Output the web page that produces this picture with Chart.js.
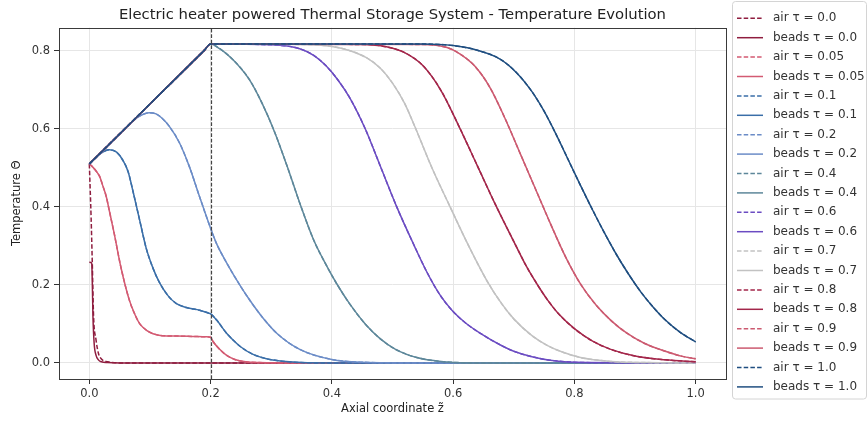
<!DOCTYPE html>
<html>
<head>
<meta charset="utf-8">
<script src="https://cdn.jsdelivr.net/npm/chart.js@4.4.1/dist/chart.umd.min.js"></script>
<style>
  html, body { margin: 0; padding: 0; background: #fff; }
  #wrap { width: 868px; height: 421px; position: relative; }
</style>
</head>
<body>
<div id="wrap"><canvas id="chart"></canvas></div>
<script>
/* --- Data --- */
const TAUS = ['0.0', '0.05', '0.1', '0.2', '0.4', '0.6', '0.7', '0.8', '0.9', '1.0'];
const COLORS = ['#8f1d3f', '#d35a72', '#3a6ea8', '#6b8cc7', '#5d879a',
                '#6b4cc2', '#c2c2c2', '#a3264a', '#cc5a70', '#1f4e80'];
const xTicks = [0.0, 0.2, 0.4, 0.6, 0.8, 1.0];
const yTicks = [0.0, 0.2, 0.4, 0.6, 0.8];
const HEATER_END = 0.2;

// tau = 0.0 (air and beads differ here)
const z00a = [0, 0.003, 0.005, 0.007, 0.011, 0.015, 0.02, 0.027, 0.035, 0.05, 1.0];
const t00a = [0.51, 0.37, 0.25, 0.12, 0.06, 0.025, 0.01, 0.004, 0.002, 0, 0];
const z00b = [0, 0.004, 0.005, 0.006, 0.008, 0.011, 0.015, 0.02, 0.03, 0.05, 1.0];
const t00b = [0.258, 0.256, 0.2, 0.12, 0.05, 0.02, 0.008, 0.003, 0.001, 0, 0];

// tau = 0.05
const z005 = [0, 0.005, 0.012, 0.017, 0.022, 0.028, 0.033, 0.041, 0.052, 0.066, 0.075, 0.083, 0.095, 0.105, 0.12, 0.143, 0.17, 0.193, 0.2, 0.204, 0.215, 0.226, 0.24, 0.258, 0.28, 0.35, 1.0];
const t005 = [0.51, 0.503, 0.49, 0.478, 0.455, 0.426, 0.39, 0.332, 0.246, 0.161, 0.125, 0.101, 0.083, 0.075, 0.07, 0.069, 0.068, 0.067, 0.066, 0.055, 0.035, 0.02, 0.009, 0.003, 0.001, 0, 0];

// tau = 0.1
const z01 = [0, 0.01, 0.02, 0.033, 0.045, 0.055, 0.064, 0.072, 0.083, 0.094, 0.105, 0.116, 0.13, 0.143, 0.16, 0.182, 0.196, 0.2, 0.21, 0.226, 0.237, 0.25, 0.27, 0.292, 0.33, 0.4, 1.0];
const t01 = [0.51, 0.525, 0.538, 0.546, 0.54, 0.52, 0.49, 0.44, 0.366, 0.293, 0.243, 0.205, 0.172, 0.153, 0.142, 0.135, 0.128, 0.126, 0.11, 0.077, 0.059, 0.041, 0.022, 0.011, 0.003, 0, 0];

// tau = 0.2
const z02 = [0, 0.04, 0.08, 0.09, 0.099, 0.11, 0.12, 0.132, 0.149, 0.165, 0.182, 0.2, 0.21, 0.226, 0.248, 0.265, 0.285, 0.31, 0.347, 0.4, 0.45, 0.55, 1.0];
const t02 = [0.51, 0.571, 0.63, 0.638, 0.641, 0.638, 0.627, 0.606, 0.563, 0.503, 0.425, 0.345, 0.305, 0.258, 0.2, 0.16, 0.118, 0.075, 0.035, 0.009, 0.002, 0, 0];

// tau = 0.4
const z04 = [0, 0.1, 0.19, 0.2, 0.215, 0.237, 0.264, 0.285, 0.306, 0.326, 0.347, 0.37, 0.391, 0.408, 0.43, 0.455, 0.479, 0.505, 0.54, 0.58, 0.65, 1.0];
const t04 = [0.51, 0.6635, 0.8015, 0.817, 0.805, 0.777, 0.726, 0.665, 0.59, 0.505, 0.41, 0.315, 0.25, 0.203, 0.15, 0.1, 0.063, 0.035, 0.014, 0.004, 0, 0];

// tau = 0.6
const z06 = [0, 0.1, 0.19, 0.2, 0.3, 0.347, 0.37, 0.39, 0.41, 0.43, 0.455, 0.481, 0.507, 0.536, 0.556, 0.578, 0.598, 0.62, 0.645, 0.678, 0.70, 0.73, 0.76, 0.82, 1.0];
const t06 = [0.51, 0.6635, 0.8015, 0.817, 0.815, 0.805, 0.788, 0.762, 0.725, 0.678, 0.6, 0.5, 0.4, 0.3, 0.235, 0.175, 0.135, 0.103, 0.076, 0.046, 0.03, 0.016, 0.007, 0.001, 0];

// tau = 0.7
const z07 = [0, 0.1, 0.19, 0.2, 0.35, 0.40, 0.43, 0.457, 0.48, 0.50, 0.52, 0.537, 0.565, 0.595, 0.625, 0.656, 0.68, 0.70, 0.73, 0.755, 0.78, 0.81, 0.86, 0.92, 1.0];
const t07 = [0.51, 0.6635, 0.8015, 0.817, 0.816, 0.811, 0.80, 0.782, 0.755, 0.717, 0.665, 0.605, 0.5, 0.4, 0.302, 0.21, 0.152, 0.113, 0.07, 0.045, 0.028, 0.014, 0.004, 0.001, 0];

// tau = 0.8
const z08 = [0, 0.1, 0.19, 0.2, 0.45, 0.49, 0.52, 0.55, 0.58, 0.61, 0.64, 0.67, 0.703, 0.72, 0.738, 0.755, 0.775, 0.80, 0.83, 0.86, 0.90, 0.95, 1.0];
const t08 = [0.51, 0.6635, 0.8015, 0.817, 0.816, 0.81, 0.795, 0.762, 0.698, 0.605, 0.505, 0.405, 0.302, 0.25, 0.203, 0.163, 0.124, 0.088, 0.056, 0.035, 0.018, 0.008, 0.003];

// tau = 0.9
const z09 = [0, 0.1, 0.19, 0.2, 0.55, 0.59, 0.611, 0.636, 0.661, 0.686, 0.711, 0.736, 0.761, 0.786, 0.811, 0.836, 0.861, 0.886, 0.916, 0.95, 0.978, 1.0];
const t09 = [0.51, 0.6635, 0.8015, 0.817, 0.816, 0.808, 0.792, 0.76, 0.705, 0.625, 0.535, 0.445, 0.355, 0.27, 0.2, 0.148, 0.108, 0.077, 0.05, 0.03, 0.017, 0.011];

// tau = 1.0
const z10 = [0, 0.1, 0.19, 0.2, 0.55, 0.6, 0.64, 0.678, 0.705, 0.73, 0.75, 0.77, 0.79, 0.81, 0.83, 0.85, 0.87, 0.89, 0.91, 0.93, 0.95, 0.975, 1.0];
const t10 = [0.51, 0.6635, 0.8015, 0.817, 0.817, 0.813, 0.801, 0.778, 0.743, 0.695, 0.645, 0.585, 0.52, 0.455, 0.392, 0.332, 0.276, 0.226, 0.181, 0.143, 0.11, 0.078, 0.054];

/* air (dashed) and beads (solid) per tau; they overlap except at tau = 0 */
const airZ   = [z00a, z005, z01, z02, z04, z06, z07, z08, z09, z10];
const airT   = [t00a, t005, t01, t02, t04, t06, t07, t08, t09, t10];
const beadsZ = [z00b, z005, z01, z02, z04, z06, z07, z08, z09, z10];
const beadsT = [t00b, t005, t01, t02, t04, t06, t07, t08, t09, t10];

/* --- Stil --- */
const FONT = "'DejaVu Sans', sans-serif";
const TEXT = '#333';
Chart.defaults.font.family = FONT;
Chart.defaults.color = TEXT;

function toPoints(zs, ts){ return zs.map((z, i) => ({ x: z, y: ts[i] })); }

const datasets = [];
TAUS.forEach((tau, i) => {
  datasets.push({
    label: 'air τ = ' + tau,
    data: toPoints(airZ[i], airT[i]),
    borderColor: COLORS[i],
    borderWidth: 1.5,
    borderDash: [4.5, 2.2],
  });
  datasets.push({
    label: 'beads τ = ' + tau,
    data: toPoints(beadsZ[i], beadsT[i]),
    borderColor: COLORS[i],
    borderWidth: 1.5,
    borderDash: [],
  });
});
datasets.forEach((ds, i) => {
  ds.pointRadius = 0;
  ds.pointHoverRadius = 0;
  ds.fill = false;
  ds.cubicInterpolationMode = 'monotone';
  ds.order = -i; // senare serier ritas överst, som i matplotlib
});

/* --- Plugin: ram, streckad linje vid z = 0.2 --- */
const framePlugin = {
  id: 'frame',
  afterDatasetsDraw(chart) {
    const { ctx, chartArea: { left, right, top, bottom }, scales: { x } } = chart;
    ctx.save();
    const xp = Math.round(x.getPixelForValue(HEATER_END)) + 0.5;
    ctx.strokeStyle = '#444';
    ctx.lineWidth = 1.2;
    ctx.setLineDash([3.7, 1.8]);
    ctx.beginPath();
    ctx.moveTo(xp, bottom);
    ctx.lineTo(xp, top);
    ctx.stroke();
    ctx.setLineDash([]);
    ctx.strokeStyle = '#3a3a3a';
    ctx.lineWidth = 1;
    ctx.strokeRect(Math.round(left) + 0.5, Math.round(top) + 0.5,
                   Math.round(right - left), Math.round(bottom - top));
    ctx.restore();
  }
};

/* --- Plugin: legend i ram till höger --- */
const LEG = { x: 732.5, y: 1.5, w: 134, h: 397.5, r: 3, row0: 18.3, dy: 19.4, lineX: 737, lineW: 26, textX: 773 };
const legendPlugin = {
  id: 'boxLegend',
  afterDraw(chart) {
    const { ctx } = chart;
    ctx.save();
    ctx.fillStyle = 'rgba(255,255,255,0.85)';
    ctx.strokeStyle = '#d4d4d4';
    ctx.lineWidth = 1;
    ctx.beginPath();
    ctx.roundRect(LEG.x, LEG.y, LEG.w, LEG.h, LEG.r);
    ctx.fill();
    ctx.stroke();
    ctx.font = '12px ' + FONT;
    ctx.textBaseline = 'middle';
    chart.data.datasets.forEach((ds, i) => {
      const y = LEG.row0 + i * LEG.dy;
      ctx.strokeStyle = ds.borderColor;
      ctx.lineWidth = ds.borderWidth;
      ctx.setLineDash(ds.borderDash);
      ctx.beginPath();
      ctx.moveTo(LEG.lineX, y);
      ctx.lineTo(LEG.lineX + LEG.lineW, y);
      ctx.stroke();
      ctx.setLineDash([]);
      ctx.fillStyle = TEXT;
      ctx.fillText(ds.label, LEG.textX, y);
    });
    ctx.restore();
  }
};

const canvas = document.getElementById('chart');
const chart = new Chart(canvas, {
  type: 'line',
  data: { datasets },
  options: {
    responsive: true,
    maintainAspectRatio: false,
    animation: false,
    events: [],
    layout: { padding: { left: 0, right: 142, top: 0, bottom: 0 } },
    plugins: {
      legend: { display: false },
      tooltip: { enabled: false },
      title: {
        display: true,
        fullSize: false,
        text: 'Electric heater powered Thermal Storage System - Temperature Evolution',
        color: '#222',
        font: { size: 14.8, weight: 'normal' },
        padding: { top: 6.1, bottom: 3.8 }
      }
    },
    scales: {
      x: {
        type: 'linear',
        min: -0.05,
        max: 1.05,
        afterBuildTicks: s => { s.ticks = xTicks.map(v => ({ value: v })); },
        afterFit: s => { s.height = 42; },
        ticks: {
          callback: v => v.toFixed(1),
          font: { size: 11.5 },
          color: TEXT,
          padding: 3,
          maxRotation: 0
        },
        grid: { color: '#e6e6e6', lineWidth: 1, tickLength: 5, tickColor: '#333', tickWidth: 1 },
        border: { display: false },
        title: {
          display: true,
          text: 'Axial coordinate z̃',
          font: { size: 11.5 },
          color: '#222',
          padding: { top: 0, bottom: 5 }
        }
      },
      y: {
        type: 'linear',
        min: -0.041,
        max: 0.859,
        afterBuildTicks: s => { s.ticks = yTicks.map(v => ({ value: v })); },
        afterFit: s => { s.width = 59; },
        ticks: {
          callback: v => v.toFixed(1),
          font: { size: 11.5 },
          color: TEXT,
          padding: 4
        },
        grid: { color: '#e6e6e6', lineWidth: 1, tickLength: 5, tickColor: '#333', tickWidth: 1 },
        border: { display: false },
        title: {
          display: true,
          text: 'Temperature Θ',
          font: { size: 11.5 },
          color: '#222',
          padding: { top: 10, bottom: 0 }
        }
      }
    }
  },
  plugins: [framePlugin, legendPlugin]
});
</script>
</body>
</html>
